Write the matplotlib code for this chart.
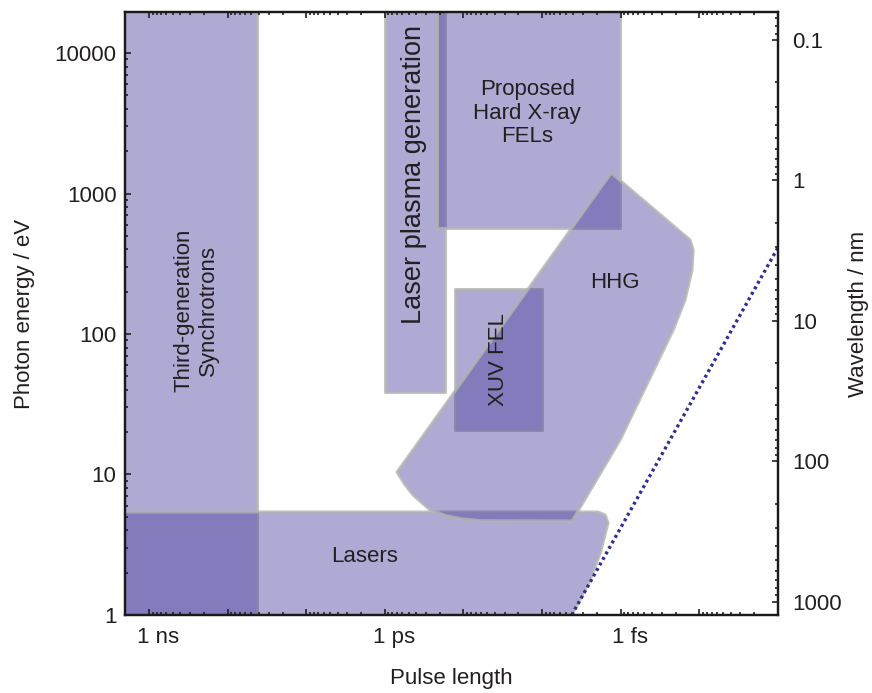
import matplotlib
matplotlib.use("Agg")
import matplotlib.pyplot as plt
import matplotlib.transforms as mtransforms
from matplotlib.patches import Polygon
from matplotlib.ticker import FixedLocator, LogLocator, NullFormatter, FixedFormatter

plt.rcParams['font.family'] = ['Liberation Sans', 'DejaVu Sans']

# ==========================================
# Region outlines: pulse length (s) vs photon energy (eV)
# ==========================================
sync_t = [3e-9, 4.2e-11, 4.2e-11, 3e-9]
sync_e = [0.5, 0.5, 1e5, 1e5]

lasers_t = [3e-9, 3e-9, 1.95e-15, 1.58e-15, 1.45e-15, 1.82e-15, 2.45e-15, 3.3e-15, 4.2e-15, 5.9e-15]
lasers_e = [0.5, 5.41, 5.41, 5.15, 4.52, 2.76, 1.77, 1.28, 1.0, 0.66]

plasma_t = [1e-12, 1.71e-13, 1.71e-13, 1e-12]
plasma_e = [38.7, 38.7, 1e5, 1e5]

xfel_t = [2.17e-13, 1.02e-15, 1.02e-15, 2.17e-13]
xfel_e = [568, 568, 1e5, 1e5]

xuv_t = [1.28e-13, 1.01e-14, 1.01e-14, 1.28e-13]
xuv_e = [20.7, 20.7, 209, 209]

hhg_t = [1.32e-15, 1.31e-16, 1.2e-16, 1.24e-16, 1.52e-16, 2.15e-16, 1.02e-15, 4.15e-15,
         6.15e-14, 1.01e-13, 1.62e-13, 2.66e-13, 3.37e-13, 4.38e-13, 5.53e-13, 7.0e-13]
hhg_e = [1400, 467, 396, 285, 175, 107, 17.6, 4.67,
         4.69, 4.82, 5.07, 5.59, 6.27, 7.15, 8.42, 10.4]

# transform limit (dotted line)
limit_t = [4.2e-15, 1e-17]
limit_e = [1.0, 413]

# labels: (text, t, E, rotation, size)
labels = [
    ("Third-generation\nSynchrotrons", 2.52e-10, 148, 90, 16),
    ("Laser plasma generation", 4.26e-13, 1377, 90, 19.5),
    ("Proposed\nHard X-ray\nFELs", 1.55e-14, 3740, 0, 16),
    ("HHG", 1.18e-15, 231, 0, 16),
    ("XUV FEL", 3.63e-14, 65.3, 90, 16),
    ("Lasers", 1.79e-12, 2.59, 0, 16),
]

x_major = [1e-9, 1e-10, 1e-11, 1e-12, 1e-13, 1e-14, 1e-15, 1e-16, 1e-17]
x_names = ["1 ns", "", "", "1 ps", "", "", "1 fs", "", ""]
e_ticks = [1, 10, 100, 1000, 10000]
e_names = ["1", "10", "100", "1000", "10000"]
wl_ticks = [0.1, 1, 10, 100, 1000]
wl_names = ["0.1", "1", "10", "100", "1000"]

HC = 1239.84  # eV nm

TXT = '#231f20'
FACE = (79 / 255, 70 / 255, 161 / 255, 0.46)
EDGE = (0.70, 0.70, 0.70, 0.8)

fig = plt.figure(figsize=(8.72, 6.93), dpi=100)
ax = fig.add_axes([0.1433, 0.1126, 0.7489, 0.8701])

for ts, es in [(sync_t, sync_e), (lasers_t, lasers_e), (plasma_t, plasma_e),
               (xfel_t, xfel_e), (xuv_t, xuv_e), (hhg_t, hhg_e)]:
    ax.add_patch(Polygon(list(zip(ts, es)), closed=True, facecolor=FACE,
                         edgecolor=EDGE, linewidth=2.2, joinstyle='round'))

ax.plot(limit_t, limit_e, color='#2e3192', linewidth=2.4, linestyle=(0, (0.9, 1.0)))

for txt, t, e, rot, size in labels:
    ax.text(t, e, txt, rotation=rot, ha='center', va='center', fontsize=size,
            color=TXT, linespacing=1.15 if rot == 0 else 1.2)

ax.set_xscale('log')
ax.set_yscale('log')
ax.set_xlim(2.02e-9, 1e-17)
ax.set_ylim(1, 1.96e4)

ax.xaxis.set_major_locator(FixedLocator(x_major))
ax.xaxis.set_major_formatter(FixedFormatter(x_names))
ax.xaxis.set_minor_locator(LogLocator(base=10, subs=range(2, 10), numticks=30))
ax.xaxis.set_minor_formatter(NullFormatter())
ax.yaxis.set_major_locator(FixedLocator(e_ticks))
ax.yaxis.set_major_formatter(FixedFormatter(e_names))
ax.yaxis.set_minor_locator(LogLocator(base=10, subs=range(2, 10), numticks=30))
ax.yaxis.set_minor_formatter(NullFormatter())

ax.tick_params(which='both', direction='in', top=True, right=False, colors=TXT,
               labelsize=16, width=1.2)
ax.tick_params(which='major', length=4.5)
ax.tick_params(which='minor', length=2.5)
ax.tick_params(axis='x', pad=9)
ax.tick_params(axis='y', pad=6)

off = mtransforms.ScaledTranslation(0.09, 0, fig.dpi_scale_trans)
for lbl in ax.get_xticklabels():
    lbl.set_transform(lbl.get_transform() + off)

for s in ax.spines.values():
    s.set_linewidth(1.6)
    s.set_color('#1a1a1a')

ax.set_xlabel("Pulse length", fontsize=16, color=TXT, labelpad=14)
ax.set_ylabel("Photon energy / eV", fontsize=16, color=TXT, labelpad=14)

# wavelength axis on the right
ax2 = ax.twinx()
ax2.set_yscale('log')
ax2.set_ylim(HC / 1, HC / 1.96e4)
ax2.yaxis.set_major_locator(FixedLocator(wl_ticks))
ax2.yaxis.set_major_formatter(FixedFormatter(wl_names))
ax2.yaxis.set_minor_locator(LogLocator(base=10, subs=range(2, 10), numticks=30))
ax2.yaxis.set_minor_formatter(NullFormatter())
ax2.tick_params(which='both', direction='in', colors=TXT, labelsize=16, width=1.2, pad=10)
ax2.tick_params(which='major', length=4.5)
ax2.tick_params(which='minor', length=2.5)
ax2.set_ylabel("Wavelength / nm", fontsize=16, color=TXT, labelpad=5)
for s in ax2.spines.values():
    s.set_linewidth(1.6)
    s.set_color('#1a1a1a')

fig.savefig("out.png", dpi=100)
